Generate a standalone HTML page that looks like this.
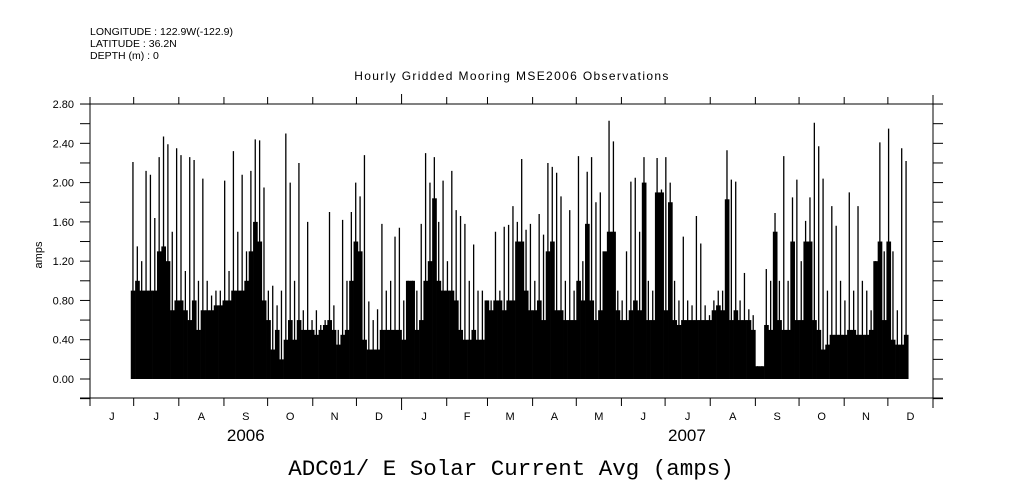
<!DOCTYPE html>
<html><head><meta charset="utf-8"><style>
body{margin:0;background:#fff;}
svg{display:block;font-family:"Liberation Sans",sans-serif;}
</style></head><body>
<svg id="chart" width="1009" height="504" viewBox="0 0 1009 504">
<g font-size="10.5" fill="#000">
<text x="90" y="35">LONGITUDE : 122.9W(-122.9)</text>
<text x="90" y="47">LATITUDE : 36.2N</text>
<text x="90" y="59">DEPTH (m) : 0</text>
</g>
<text x="512" y="80" font-size="12" letter-spacing="1.35" text-anchor="middle">Hourly Gridded Mooring MSE2006 Observations</text>
<text x="511" y="475" font-size="22.5" text-anchor="middle" font-family="'Liberation Mono',monospace">ADC01/ E Solar Current Avg (amps)</text>
<text transform="translate(42,255) rotate(-90)" font-size="11" text-anchor="middle">amps</text>
<g id="marks"></g>
<g id="axes"></g>
</svg>
<script>
const startDay = 28; // days after Jun 1 2006
const binDays = 3;
const peakValues = [2.21,1.35,1.2,2.12,2.08,1.64,2.26,2.47,2.39,1.5,
2.35,2.28,1.1,2.26,2.23,1.0,2.04,1.0,0.85,0.9,
0.9,2.02,1.1,2.32,1.5,2.08,1.3,2.12,2.44,2.43,
1.95,0.9,0.95,0.75,0.9,2.5,2.0,1.0,2.2,0.7,
1.6,0.6,0.7,0.55,0.6,1.7,0.75,0.5,1.62,1.0,
1.7,2.0,1.86,2.28,0.79,0.6,0.71,1.58,0.9,1.0,
1.45,1.54,0.8,1.0,1.0,0.9,1.58,2.3,2.0,2.26,
1.6,2.02,1.2,2.12,1.72,1.66,1.58,1.0,1.37,0.9,
0.9,0.8,0.8,1.5,0.9,1.55,1.57,1.76,1.6,2.24,
1.52,1.58,1.0,1.68,1.47,2.2,2.16,2.1,1.86,1.0,
1.72,0.9,2.27,1.2,2.11,2.26,1.8,1.9,1.0,2.63,
2.42,0.9,0.8,1.3,2.01,2.05,1.5,2.26,1.0,0.9,
2.25,1.93,2.26,2.0,1.0,0.8,1.45,0.8,0.75,1.66,
1.38,0.75,0.65,0.8,0.9,0.9,2.33,2.03,2.01,0.8,
1.08,0.71,0.65,0.13,0.13,1.12,1.0,1.69,1.0,2.27,
1.0,1.85,2.03,1.2,1.61,1.85,2.61,2.37,2.04,0.9,
1.76,1.56,1.0,0.8,1.9,0.9,1.76,1.0,0.9,0.7,
1.2,2.41,1.3,2.55,1.3,0.7,2.35,2.22];
const bodyValues = [0.9,1.0,0.9,0.9,0.9,0.9,1.3,1.35,1.2,0.7,
0.8,0.8,0.7,0.6,0.8,0.5,0.7,0.7,0.7,0.75,
0.75,0.8,0.8,0.9,0.9,0.9,1.0,1.3,1.6,1.4,
0.8,0.6,0.3,0.5,0.2,0.4,0.6,0.4,0.6,0.5,
0.5,0.5,0.45,0.5,0.55,0.6,0.5,0.35,0.45,0.5,
1.0,1.4,1.3,0.4,0.3,0.3,0.3,0.5,0.5,0.5,
0.5,0.5,0.4,1.0,1.0,0.5,0.6,1.0,1.2,1.84,
1.0,0.9,0.9,0.9,0.8,0.5,0.4,0.4,0.5,0.4,
0.4,0.8,0.7,0.8,0.8,0.7,0.8,0.8,1.4,1.4,
0.9,0.7,0.7,0.8,0.6,1.3,1.4,0.7,0.7,0.6,
0.6,0.6,1.0,0.8,1.58,0.8,0.6,0.7,1.3,1.5,
1.5,0.7,0.6,0.6,0.7,0.8,0.7,2.0,0.6,0.6,
1.9,1.9,0.7,1.8,0.6,0.55,0.6,0.6,0.6,0.6,
0.6,0.6,0.6,0.7,0.75,0.7,1.83,0.6,0.7,0.6,
0.6,0.6,0.5,0.13,0.13,0.55,0.5,1.5,0.6,0.5,
0.5,1.4,0.6,0.6,1.4,1.4,0.6,0.5,0.3,0.35,
0.45,0.45,0.45,0.45,0.5,0.5,0.45,0.45,0.45,0.5,
1.2,1.4,0.6,1.4,0.4,0.35,0.35,0.45];
const yTickValues = [-0.2,0,0.2,0.4,0.6,0.8,1.0,1.2,1.4,1.6,1.8,2.0,2.2,2.4,2.6,2.8];
const yLabelValues = [0,0.4,0.8,1.2,1.6,2.0,2.4,2.8];
const monthStartDays = [0,30,61,92,122,153,183,214,245,273,304,334,365,395,426,457,487,518,548,579];
const monthLabels = ["J","J","A","S","O","N","D","J","F","M","A","M","J","J","A","S","O","N","D"];
const yearLabels = ["2006","2007"];
const yearCenterDays = [107,410];

const X0=90,X1=933,TOTAL=579,Y0=379,PPU=98.2;
const xs=d=>X0+d*(X1-X0)/TOTAL;
const ys=v=>Y0-v*PPU;
const NS="http://www.w3.org/2000/svg";
function mk(tag,attrs,parent){const e=document.createElementNS(NS,tag);for(const k in attrs)e.setAttribute(k,attrs[k]);parent.appendChild(e);return e;}
const marks=document.getElementById('marks');
for(let i=0;i<peakValues.length;i++){
  const d=startDay+i*binDays;
  const xa=xs(d),xb=xs(d+binDays);
  const b=bodyValues[i];
  const r=mk('rect',{x:xa,y:ys(b),width:xb-xa+0.3,height:ys(0)-ys(b),fill:'#000'},marks);
  
  
  const cx=(xa+xb)/2;
  const l=mk('line',{x1:cx,x2:cx,y1:ys(0),y2:ys(peakValues[i]),stroke:'#000','stroke-width':1.3},marks);
  
  
}
const ax=document.getElementById('axes');
const st={stroke:'#000','stroke-width':1,fill:'none'};
mk('line',Object.assign({x1:X0,x2:X0,y1:100,y2:403},st),ax);
mk('line',Object.assign({x1:X1,x2:X1,y1:95,y2:408},st),ax);
mk('line',Object.assign({x1:X0-10,x2:X1+10,y1:104,y2:104},st),ax);
mk('line',Object.assign({x1:X0-10,x2:X1+10,y1:398,y2:398},st),ax);
yTickValues.forEach(v=>{
  const y=ys(v);
  mk('line',Object.assign({x1:X0-10,x2:X0,y1:y,y2:y},st),ax);
  mk('line',Object.assign({x1:X1,x2:X1+10,y1:y,y2:y},st),ax);
});
yLabelValues.forEach(v=>{
  const t=mk('text',{x:74,y:ys(v)+4,'font-size':11,'text-anchor':'end'},ax);
  t.textContent=v.toFixed(2);
  
  
});
monthStartDays.forEach(d=>{
  const x=xs(d);
  const yr=(d===214);
  mk('line',Object.assign({x1:x,x2:x,y1:yr?94:97,y2:104},st),ax);
  mk('line',Object.assign({x1:x,x2:x,y1:398,y2:yr?410:406},st),ax);
});
monthLabels.forEach((m,i)=>{
  const x=xs((monthStartDays[i]+monthStartDays[i+1])/2);
  const t=mk('text',{x:x,y:420,'font-size':11,'text-anchor':'middle'},ax);
  t.textContent=m;
  
  
});
yearLabels.forEach((y,i)=>{
  const t=mk('text',{x:xs(yearCenterDays[i]),y:441,'font-size':17,'text-anchor':'middle'},ax);
  t.textContent=y;
  
  
});
</script>
</body></html>
